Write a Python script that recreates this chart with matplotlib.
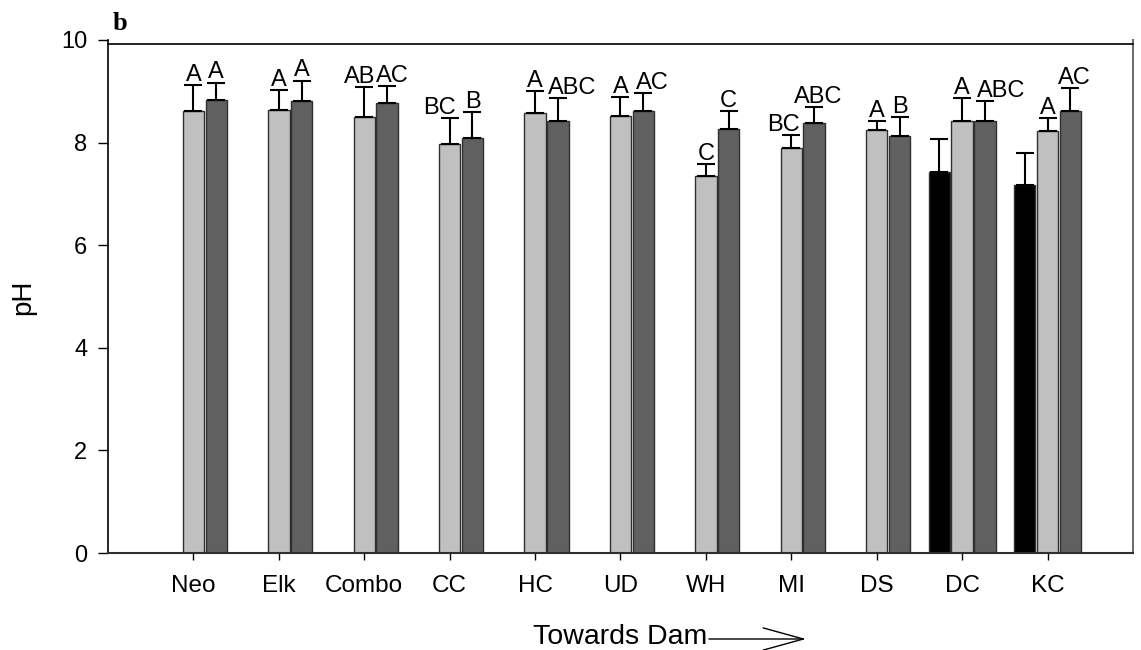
import numpy as np
import matplotlib
matplotlib.use("Agg")
import matplotlib.pyplot as plt

plt.rcParams['font.family'] = ['Liberation Sans', 'DejaVu Sans']

# sites, upstream -> dam
sites = ['Neo', 'Elk', 'Combo', 'CC', 'HC', 'UD', 'WH', 'MI', 'DS', 'DC', 'KC']

# three sampling series (black only present at DC and KC)
ph_black = [np.nan] * 9 + [7.42, 7.17]
err_black = [0] * 9 + [0.65, 0.63]

ph_light = [8.62, 8.64, 8.49, 7.97, 8.57, 8.51, 7.35, 7.89, 8.25, 8.43, 8.23]
err_light = [0.50, 0.38, 0.60, 0.50, 0.44, 0.38, 0.23, 0.26, 0.17, 0.43, 0.25]

ph_dark = [8.84, 8.81, 8.77, 8.08, 8.43, 8.62, 8.27, 8.39, 8.12, 8.42, 8.62]
err_dark = [0.33, 0.40, 0.33, 0.51, 0.43, 0.35, 0.34, 0.31, 0.37, 0.39, 0.44]

# significance letters
letters_light = ['A', 'A', 'AB', 'BC', 'A', 'A', 'C', 'BC', 'A', 'A', 'A']
letters_dark = ['A', 'A', 'AC', 'B', 'ABC', 'AC', 'C', 'ABC', 'B', 'ABC', 'AC']

# small horizontal nudges (pixels) for a few letters, as in the original
nudge_light = {'Combo': -5, 'CC': -10, 'MI': -8}
nudge_dark = {'Combo': 5, 'HC': 14, 'UD': 9, 'DC': 16, 'MI': 4, 'KC': 4}

fig = plt.figure(figsize=(11.41, 6.5), dpi=100)
ax = fig.add_axes([108 / 1141, 1 - 553 / 650, (1133 - 108) / 1141, (553 - 40) / 650])

x = np.arange(len(sites))
w = 0.25
off = 0.267
edge = '#303030'

ax.bar(x - off, ph_black, w, color='black', edgecolor=edge, linewidth=1, zorder=2)
ax.bar(x, ph_light, w, color='#c0c0c0', edgecolor=edge, linewidth=1, zorder=2)
ax.bar(x + off, ph_dark, w, color='#606060', edgecolor=edge, linewidth=1, zorder=2)

eb = dict(fmt='none', ecolor='black', elinewidth=1.5, capsize=6.5, capthick=1.5, zorder=3)
ax.errorbar(x - off, ph_black, yerr=[np.zeros(len(x)), err_black], **eb)
ax.errorbar(x, ph_light, yerr=[np.zeros(len(x)), err_light], **eb)
ax.errorbar(x + off, ph_dark, yerr=[np.zeros(len(x)), err_dark], **eb)

for i, s in enumerate(sites):
    ax.annotate(letters_light[i], (x[i], ph_light[i] + err_light[i]),
                xytext=(nudge_light.get(s, 0) * 0.72, 3), textcoords='offset points',
                ha='center', va='baseline', fontsize=17)
    ax.annotate(letters_dark[i], (x[i] + off, ph_dark[i] + err_dark[i]),
                xytext=(nudge_dark.get(s, 0) * 0.72, 3), textcoords='offset points',
                ha='center', va='baseline', fontsize=17)

ax.set_xlim(-1, 11)
ax.set_ylim(0, 10)
ax.set_yticks([0, 2, 4, 6, 8, 10])
ax.set_xticks(x)
ax.set_xticklabels(sites)
ax.tick_params(axis='y', direction='out', length=7, width=1, labelsize=17, pad=8)
ax.tick_params(axis='x', direction='out', length=5, width=1, labelsize=17.5, pad=11)

ax.spines['left'].set_linewidth(1.2)
ax.spines['bottom'].set_linewidth(1.5)
ax.spines['bottom'].set_color('#303030')
ax.spines['top'].set_position(('data', 9.93))
ax.spines['top'].set_linewidth(1.2)
ax.spines['right'].set_color('#707070')
ax.spines['right'].set_linewidth(1.5)

fig.text(23 / 1141, 1 - 297 / 650, 'pH', rotation=90, ha='center', va='center', fontsize=20)
fig.text(620 / 1141, 1 - 644 / 650, 'Towards Dam', ha='center', va='baseline', fontsize=20.5)
ax.annotate('', xy=(806 / 1141, 1 - 639 / 650), xytext=(709 / 1141, 1 - 639 / 650),
            xycoords='figure fraction', textcoords='figure fraction',
            arrowprops=dict(arrowstyle='->,head_length=2.9,head_width=0.8',
                            mutation_scale=10, lw=1, color='black',
                            shrinkA=0, shrinkB=0))
fig.text(113 / 1141, 1 - 30 / 650, 'b', ha='left', va='baseline', fontsize=19,
         fontweight='bold', family='Liberation Serif')

fig.savefig('out.png', dpi=100)
